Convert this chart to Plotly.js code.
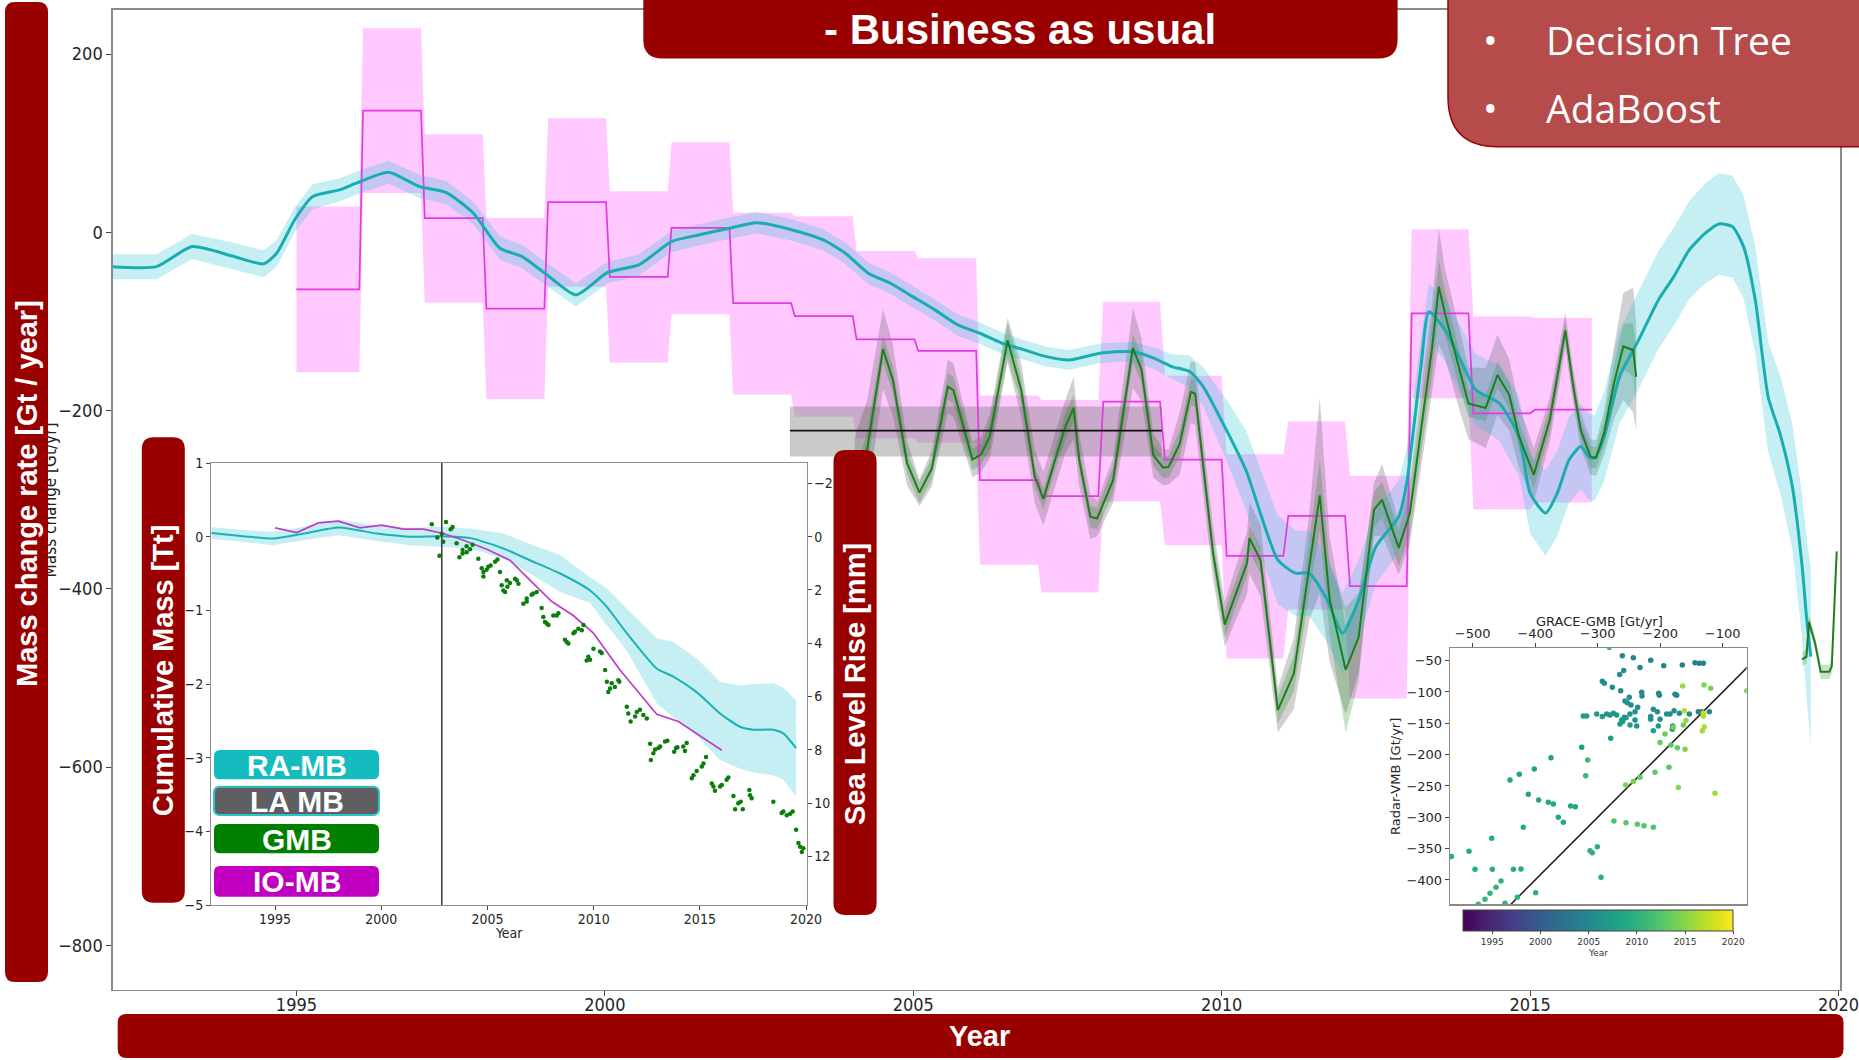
<!DOCTYPE html>
<html>
<head>
<meta charset="utf-8">
<script src="https://cdn.plot.ly/plotly-3.0.1.min.js"></script>
<style>
  html, body { margin: 0; padding: 0; background: #ffffff; }
  #chart { width: 1859px; height: 1060px; }
</style>
</head>
<body>
<div id="chart"></div>
<script>
// ===================== Main panel: mass change rate [Gt/yr] =====================

// RA-MB (radar altimetry mass balance): year, rate, 1-sigma
const ramYears = [1992.0, 1992.73, 1993.31, 1993.96, 1994.47, 1994.68, 1994.97, 1995.26, 1995.7, 1995.98,
  1996.49, 1997.0, 1997.43, 1997.87, 1998.3, 1998.66, 1999.03, 1999.53, 2000.04, 2000.55,
  2001.08, 2001.52, 2002.02, 2002.46, 2003.04, 2003.54, 2003.9, 2004.27, 2004.63, 2004.99,
  2005.35, 2005.72, 2006.08, 2006.44, 2006.8, 2007.16, 2007.53, 2008.03, 2008.54, 2008.9,
  2009.19, 2009.48, 2009.7, 2010.1, 2010.4, 2010.91, 2011.2, 2011.42, 2011.71, 2011.96,
  2012.22, 2012.5, 2012.87, 2013.0, 2013.23, 2013.36, 2013.62, 2013.87, 2014.12, 2014.5,
  2014.82, 2015.0, 2015.25, 2015.44, 2015.63, 2015.82, 2015.95, 2016.04, 2016.2, 2016.45,
  2016.76, 2017.08, 2017.33, 2017.58, 2017.84, 2018.06, 2018.28, 2018.46, 2018.65, 2018.86,
  2019.06, 2019.25, 2019.41, 2019.48, 2019.55];
const ramRate = [-38.5, -38.5, -16, -26.5, -35.4, -23.5, 13.9, 40, 47.6, 55.4,
  67.4, 51.3, 44.6, 21.4, -17.8, -27.2, -45.9, -70.2, -45.2, -36.6,
  -10.4, -2.9, 4.6, 10.9, 2.7, -8.5, -23.4, -45.9, -57.1, -72.1,
  -87, -103.9, -113.2, -124.4, -131.9, -139.4, -143.1, -135.6, -133.8, -141.2,
  -150.6, -156.2, -173, -225, -268, -367.5, -382.4, -382.4, -412.3, -449.7,
  -412.3, -352.5, -318.9, -281, -150.6, -89, -109.5, -143, -176.8, -191.7,
  -229, -292.7, -315, -292.7, -255.3, -240.4, -251.6, -253.4, -229, -161.9,
  -120.7, -75.8, -49.7, -19.7, -1, 9.4, 6.4, -16, -76, -185,
  -228, -285, -375, -431, -476];
const ramErr = [14, 14, 14, 15, 15, 15, 14, 14, 13, 13,
  13, 13, 13, 13, 13, 13, 13, 13, 12, 12,
  12, 12, 12, 12, 12, 12, 12, 12, 12, 12,
  12, 12, 12, 12, 11, 11, 11, 11, 11, 12,
  14, 18, 22, 35, 45, 50, 48, 48, 48, 45,
  45, 42, 40, 38, 35, 32, 35, 38, 40, 42,
  45, 45, 48, 48, 48, 48, 48, 48, 50, 52,
  55, 55, 55, 55, 56, 57, 57, 58, 60, 62,
  66, 70, 80, 90, 100];

// IO-MB (input-output mass balance): annual steps
const ioStart = [1995.0, 1996.08, 1997.08, 1998.08, 1999.08, 2000.08, 2001.08, 2002.08, 2003.08, 2004.08, 2005.08,
  2006.08, 2007.08, 2008.08, 2009.08, 2010.08, 2011.08, 2012.08, 2013.08, 2014.08, 2015.08];
const ioEnd = [1996.02, 1997.02, 1998.02, 1999.02, 2000.02, 2001.02, 2002.02, 2003.02, 2004.02, 2005.02, 2006.02,
  2007.02, 2008.0, 2009.0, 2010.0, 2011.0, 2012.0, 2013.0, 2014.0, 2015.0, 2016.0];
const ioRate = [-64, 136.5, 16, -85.6, 34, -50, 5, -79.5, -94, -120, -133,
  -278, -296, -190, -255, -363, -318, -397, -91, -203, -199];
const ioLow = [-157, 44, -79, -187, -61, -146, -92, -182, -207, -231, -236,
  -373, -404, -302, -351, -478, -423, -523, -186, -311, -303];
const ioHigh = [29, 229, 110, 16, 128, 46, 101, 22, 18, -21, -29,
  -183, -188, -78, -161, -249, -212, -273, 3.5, -94.5, -96];

// GMB (GRACE gravimetric mass balance): rate, inner and outer spread
const gmbYears = [2004.05, 2004.25, 2004.51, 2004.67, 2004.9, 2005.1, 2005.3, 2005.56, 2005.65, 2005.96,
  2006.1, 2006.24, 2006.53, 2006.75, 2006.97, 2007.11, 2007.3, 2007.47, 2007.6, 2007.69,
  2007.87, 2007.98, 2008.24, 2008.56, 2008.7, 2008.89, 2009.05, 2009.14, 2009.32, 2009.5,
  2009.57, 2009.86, 2010.05, 2010.23, 2010.41, 2010.45, 2010.63, 2010.91, 2011.17, 2011.42,
  2011.59, 2011.75, 2012.01, 2012.22, 2012.47, 2012.6, 2012.87, 2013.05, 2013.41, 2013.52,
  2013.62, 2013.87, 2014.0, 2014.28, 2014.47, 2014.66, 2014.82, 2015.06, 2015.32, 2015.57,
  2015.7, 2015.82, 2015.98, 2016.07, 2016.2, 2016.36, 2016.51, 2016.67, 2016.72];
const gmbRate = [-300, -244, -131, -166, -259, -292, -265, -173, -177, -255,
  -249, -229, -121, -177, -274, -299, -255, -217, -197, -255,
  -319, -321, -278, -130, -154, -250, -264, -263, -237, -179,
  -181, -360, -440, -405, -371, -343, -368, -536, -495, -375,
  -295, -412, -491, -454, -311, -300, -354, -315, -130, -61,
  -91, -158, -192, -197, -160, -182, -229, -272, -210, -110,
  -173, -222, -252, -253, -225, -169, -128, -132, -162];
const gmbErr = [25, 20, 15, 15, 12, 12, 12, 15, 15, 12,
  12, 15, 20, 15, 12, 12, 12, 15, 15, 12,
  12, 12, 15, 15, 15, 12, 12, 12, 15, 15,
  15, 15, 15, 15, 15, 15, 15, 15, 20, 30,
  40, 40, 70, 50, 20, 20, 20, 25, 30, 30,
  25, 20, 15, 15, 15, 15, 15, 15, 15, 10,
  10, 10, 12, 12, 15, 20, 25, 30, 30];
const gmbSpread = [70, 55, 45, 40, 25, 15, 20, 30, 30, 20,
  20, 25, 25, 30, 30, 30, 30, 30, 35, 30,
  25, 20, 25, 45, 35, 25, 20, 20, 35, 35,
  35, 30, 25, 30, 35, 40, 40, 25, 40, 60,
  110, 70, 50, 40, 30, 40, 30, 35, 50, 65,
  50, 45, 40, 45, 45, 40, 35, 30, 25, 20,
  20, 20, 20, 20, 25, 40, 60, 70, 60];

// GRACE-FO segment
const gfoYears = [2019.41, 2019.48, 2019.52, 2019.62, 2019.71, 2019.85, 2019.89, 2019.97];
const gfoRate = [-479, -476, -437, -461, -493, -493, -487, -358];

// LA MB (laser altimetry), 2003-2009 mean and range
const laPeriod = [2003.0, 2009.03];
const laRate = -222.4;
const laLow = -251.6;
const laHigh = -195.5;

const mainYearTicks = [1995, 2000, 2005, 2010, 2015, 2020];
const mainRateTicks = [-800, -600, -400, -200, 0, 200];

// ===================== Inset: cumulative mass [Tt] =====================
const cumRaYears = [1992.0, 1993.5, 1994.9, 1996.3, 1998.0, 1999.8, 2001.35, 2002.8, 2004.2, 2005.75,
  2007.0, 2008.42, 2009.83, 2010.61, 2011.56, 2012.97, 2013.75, 2014.85, 2015.95, 2016.89,
  2017.52, 2018.46, 2018.93, 2019.53];
const cumRa = [0.05, 0.007, -0.025, 0.04, 0.124, 0.042, 0.0, 0.005, -0.02, -0.16,
  -0.32, -0.5, -0.73, -0.95, -1.31, -1.79, -1.9, -2.11, -2.4, -2.58,
  -2.62, -2.62, -2.67, -2.87];
const cumRaLow = [-0.03, -0.07, -0.115, -0.05, 0.02, -0.06, -0.115, -0.138, -0.16, -0.3,
  -0.5, -0.75, -0.9, -1.2, -1.55, -2.26, -2.45, -2.7, -3.03, -3.15,
  -3.2, -3.24, -3.3, -3.53];
const cumRaHigh = [0.13, 0.09, 0.066, 0.13, 0.233, 0.15, 0.12, 0.133, 0.11, 0.043,
  -0.1, -0.25, -0.55, -0.7, -0.98, -1.38, -1.43, -1.65, -1.97, -2.02,
  -2.0, -1.99, -2.05, -2.22];

const cumIoYears = [1995.0, 1996.02, 1997.04, 1997.98, 1999.0, 2000.02, 2001.04, 2001.98, 2002.92, 2003.87,
  2004.97, 2006.06, 2007.0, 2008.03, 2009.04, 2009.99, 2011.24, 2012.18, 2012.97, 2013.99,
  2014.93, 2016.03];
const cumIo = [0.12, 0.056, 0.187, 0.21, 0.12, 0.156, 0.102, 0.102, 0.043, -0.048,
  -0.17, -0.32, -0.59, -0.88, -1.07, -1.31, -1.81, -2.13, -2.41, -2.51,
  -2.69, -2.9];

// Monthly GRACE cumulative mass
const cumGmbYears = [2002.38, 2002.64, 2002.74, 2002.85, 2002.92, 2003.05, 2003.27, 2003.36, 2003.55, 2003.68,
  2003.83, 2003.83, 2004.02, 2004.02, 2004.18, 2004.3, 2004.57, 2004.73, 2004.81, 2004.81,
  2004.96, 2005.04, 2005.15, 2005.36, 2005.47, 2005.59, 2005.67, 2005.75, 2005.83, 2005.91,
  2005.94, 2006.06, 2006.3, 2006.38, 2006.46, 2006.69, 2006.85, 2006.85, 2007.08, 2007.16,
  2007.32, 2007.55, 2007.63, 2007.71, 2007.79, 2007.87, 2008.1, 2008.26, 2008.34, 2008.65,
  2008.73, 2008.81, 2009.05, 2009.12, 2009.28, 2009.44, 2009.52, 2009.67, 2009.75, 2009.83,
  2009.99, 2010.3, 2010.38, 2010.54, 2010.62, 2010.69, 2010.77, 2010.85, 2011.0, 2011.16,
  2011.21, 2011.56, 2011.63, 2011.74, 2011.95, 2012.03, 2012.18, 2012.34, 2012.5, 2012.66,
  2012.69, 2012.81, 2012.89, 2013.05, 2013.13, 2013.36, 2013.47, 2013.79, 2013.88, 2013.94,
  2014.22, 2014.3, 2014.38, 2014.62, 2014.7, 2014.85, 2015.09, 2015.17, 2015.29, 2015.56,
  2015.64, 2015.71, 2015.95, 2016.03, 2016.26, 2016.34, 2016.58, 2016.66, 2016.81, 2016.92,
  2017.02, 2017.33, 2017.36, 2017.44, 2018.46, 2018.85, 2018.93, 2019.09, 2019.25, 2019.37,
  2019.53, 2019.64, 2019.72, 2019.8, 2019.87];
const cumGmb = [0.17, -0.01, -0.26, 0.04, -0.07, 0.2, 0.1, 0.13, -0.09, -0.28,
  -0.18, -0.23, -0.21, -0.13, -0.17, -0.11, -0.3, -0.43, -0.54, -0.48,
  -0.45, -0.41, -0.39, -0.34, -0.31, -0.48, -0.66, -0.73, -0.75, -0.59,
  -0.68, -0.63, -0.57, -0.59, -0.64, -0.91, -0.84, -0.88, -0.79, -0.77,
  -0.75, -0.97, -1.09, -1.16, -1.18, -1.2, -1.07, -1.07, -1.04, -1.4,
  -1.43, -1.45, -1.31, -1.29, -1.25, -1.27, -1.2, -1.68, -1.63, -1.67,
  -1.52, -1.56, -1.58, -1.81, -1.97, -2.11, -2.06, -1.99, -2.04, -1.95,
  -1.97, -2.31, -2.4, -2.51, -2.44, -2.38, -2.35, -2.42, -2.47, -2.81,
  -3.03, -2.94, -2.89, -2.87, -2.85, -2.78, -2.77, -2.92, -2.87, -2.86,
  -2.85, -2.91, -2.8, -3.28, -3.24, -3.18, -3.12, -3.08, -2.99, -3.35,
  -3.39, -3.45, -3.39, -3.37, -3.3, -3.27, -3.52, -3.7, -3.62, -3.6,
  -3.7, -3.44, -3.51, -3.55, -3.6, -3.75, -3.73, -3.78, -3.76, -3.73,
  -3.98, -4.16, -4.21, -4.28, -4.23];
const graceStart = 2002.85;

const insetYearTicks = [1995, 2000, 2005, 2010, 2015, 2020];
const insetMassTicks = [-5, -4, -3, -2, -1, 0, 1];
const insetSeaTicks = [-2, 0, 2, 4, 6, 8, 10, 12];

// ===================== Inset: GRACE-GMB vs Radar-VMB =====================
const scGrace = [-260.6, -243, -215.2, -164.6, -194.4, -232.3, -144.3, -137.4, -131, -258.4,
  -264.8, -292.6, -289.4, -276.6, -263.2, -229.6, -229.1, -202.4, -201.4, -176.3,
  -173.6, -256.3, -249.4, -252.6, -246.7, -236, -211, -204.6, -240.3, -248.3,
  -257.4, -261.6, -264.3, -260, -254.7, -269.6, -275, -280.3, -285.6, -292.6,
  -301.6, -317.6, -323, -240.3, -248.3, -237.6, -215.2, -215.2, -200.3, -211,
  -203, -189.7, -184.3, -177.9, -169.4, -153.4, -139, -133.6, -121.4, -180,
  -180.6, -279.2, -325.6, -374.7, -401.4, -425.4, -440.3, -411, -394.4, -379,
  -371, -343.2, -335.8, -363, -355, -419, -469.6, -505.9, -534, -496.3,
  -468.6, -434.9, -422.7, -454.7, -462.7, -472.3, -480.3, -491, -448.3, -428.6,
  -399.2, -294.7, -312.3, -308.6, -300.6, -319.2, -316, -274, -254.7, -236.6,
  -225.9, -211, -255.2, -243, -232.3, -208.3, -185.9, -171, -112.3, -200.3,
  -192.3, -182.7, -172.6, -160.3, -179, -163, -158.7, -161.4, -131, -129.4,
  -132.6, -131, -164, -129.9, -119.2, -61.6, -281.4];
const scRadar = [-42, -45.2, -49.4, -56.9, -58, -61.1, -53.2, -54.2, -54.2, -65.9,
  -72.3, -83, -86.1, -92.5, -97.9, -100.5, -106.4, -102.1, -105.3, -103.7,
  -105.3, -114.3, -108.5, -117, -120.7, -124.4, -127.6, -131.4, -131.4, -135.1,
  -140.4, -144.7, -151, -147.3, -141, -136.7, -134, -136.7, -135.1, -139.3,
  -135.1, -138.3, -138.3, -144.7, -152.6, -154.2, -139.3, -143.6, -143.6, -161.7,
  -154.2, -135.1, -135.1, -129.8, -134, -135.1, -131.4, -131.4, -131.4, -154.2,
  -159.6, -173.9, -188.3, -204.8, -222.9, -231.4, -240.4, -263.3, -272.3, -276,
  -278.7, -281.9, -283, -300, -308, -316, -333.5, -354.2, -362.7, -383,
  -383, -383, -382.4, -401.6, -411.7, -421.3, -430.8, -438.8, -437.2, -427.6,
  -420.2, -395.7, -353.2, -356.4, -346.8, -233.5, -208.5, -305.8, -308.5, -311.1,
  -313.3, -316, -248.4, -243, -236.2, -228.2, -220.2, -252.6, -261.7, -180.8,
  -167, -184.6, -188.8, -191.5, -156.4, -152.6, -145.7, -129.8, -138.3, -155.3,
  -161.7, -134, -90.4, -88.8, -94.1, -97.9, -28.7];
const scYear = [2004.6, 2004.6, 2004.4, 2004.2, 2004.5, 2004.8, 2003.8, 2003.9, 2004.0, 2005.0,
  2005.1, 2005.6, 2005.6, 2005.4, 2005.2, 2005.0, 2005.1, 2004.9, 2005.0, 2004.7,
  2004.8, 2005.6, 2005.5, 2005.8, 2005.8, 2005.5, 2005.3, 2005.4, 2006.0, 2006.2,
  2006.5, 2006.6, 2006.8, 2006.7, 2006.4, 2006.5, 2006.6, 2006.7, 2006.8, 2007.0,
  2007.1, 2007.3, 2007.4, 2006.3, 2006.9, 2006.6, 2006.0, 2006.1, 2006.0, 2007.6,
  2007.0, 2005.6, 2005.5, 2005.3, 2005.4, 2005.2, 2004.3, 2004.2, 2004.4, 2007.4,
  2007.6, 2007.0, 2007.5, 2007.8, 2008.0, 2008.2, 2008.3, 2008.3, 2008.5, 2008.5,
  2008.6, 2008.4, 2008.5, 2008.8, 2008.9, 2009.0, 2009.1, 2009.3, 2009.4, 2009.6,
  2009.5, 2009.4, 2009.5, 2010.0, 2010.2, 2010.4, 2010.5, 2010.6, 2010.3, 2010.1,
  2009.8, 2009.4, 2010.0, 2010.1, 2009.9, 2011.0, 2011.2, 2012.3, 2012.6, 2012.7,
  2012.5, 2012.4, 2014.5, 2014.2, 2013.5, 2013.0, 2012.8, 2015.0, 2016.0, 2013.5,
  2013.8, 2012.9, 2013.2, 2014.6, 2014.2, 2014.0, 2015.5, 2017.0, 2016.4, 2016.8,
  2016.2, 2017.5, 2015.8, 2014.8, 2014.6, 2015.0, 2005.0];
const oneToOne = [-560, -40];

const scGraceTicks = [-500, -400, -300, -200, -100];
const scRadarTicks = [-400, -350, -300, -250, -200, -150, -100, -50];
const colorYearTicks = [1995, 2000, 2005, 2010, 2015, 2020];

// ===================== Drawing =====================
const W = 1859, H = 1060;
const TICK_FONT = 'DejaVu Sans Condensed, DejaVu Sans, sans-serif';
const PLAIN_FONT = 'DejaVu Sans, sans-serif';
const BOLD_FONT = 'Liberation Sans, Arial, Helvetica, sans-serif';
const BOX_FONT = 'Open Sans, Noto Sans, sans-serif';
const DARK_RED = '#990000';

const fx = p => p / W;          // pixel -> paper x
const fy = p => 1 - p / H;      // pixel -> paper y

function roundedPath(x0, y0, x1, y1, r) {
  const P = (x, y) => fx(x).toFixed(5) + ',' + fy(y).toFixed(5);
  return 'M' + P(x0 + r, y0) + ' L' + P(x1 - r, y0) + ' Q' + P(x1, y0) + ' ' + P(x1, y0 + r) +
    ' L' + P(x1, y1 - r) + ' Q' + P(x1, y1) + ' ' + P(x1 - r, y1) +
    ' L' + P(x0 + r, y1) + ' Q' + P(x0, y1) + ' ' + P(x0, y1 - r) +
    ' L' + P(x0, y0 + r) + ' Q' + P(x0, y0) + ' ' + P(x0 + r, y0) + ' Z';
}

function band(xs, lo, hi, color, xa, ya) {
  return {
    x: xs.concat(xs.slice().reverse()),
    y: hi.concat(lo.slice().reverse()),
    type: 'scatter', mode: 'none', fill: 'toself', fillcolor: color,
    xaxis: xa, yaxis: ya, hoverinfo: 'skip'
  };
}

// step outline for the annual IO-MB values
const ioX = [], ioY = [], ioLoY = [], ioHiY = [];
ioStart.forEach((s, i) => {
  ioX.push(s, ioEnd[i]);
  ioY.push(ioRate[i], ioRate[i]);
  ioLoY.push(ioLow[i], ioLow[i]);
  ioHiY.push(ioHigh[i], ioHigh[i]);
});

const ramLo = ramRate.map((v, i) => v - ramErr[i]);
const ramHi = ramRate.map((v, i) => v + ramErr[i]);
const gmbLo = gmbRate.map((v, i) => v - gmbErr[i]);
const gmbHi = gmbRate.map((v, i) => v + gmbErr[i]);
const gmbSLo = gmbRate.map((v, i) => v - gmbSpread[i]);
const gmbSHi = gmbRate.map((v, i) => v + gmbSpread[i]);
const gfoLo = gfoRate.map(v => v - 8);
const gfoHi = gfoRate.map(v => v + 8);

const traces = [
  // main panel
  band(ioX, ioLoY, ioHiY, 'rgba(255,0,255,0.21)', 'x', 'y'),
  band(laPeriod, [laLow, laLow], [laHigh, laHigh], 'rgba(128,128,128,0.42)', 'x', 'y'),
  band(gmbYears, gmbSLo, gmbSHi, 'rgba(90,90,90,0.28)', 'x', 'y'),
  band(gmbYears, gmbLo, gmbHi, 'rgba(0,128,0,0.22)', 'x', 'y'),
  band(ramYears, ramLo, ramHi, 'rgba(23,190,207,0.25)', 'x', 'y'),
  band(gfoYears, gfoLo, gfoHi, 'rgba(0,128,0,0.22)', 'x', 'y'),
  { x: ioX, y: ioY, type: 'scatter', mode: 'lines', line: { color: '#e23be2', width: 1.7 }, xaxis: 'x', yaxis: 'y' },
  { x: ramYears, y: ramRate, type: 'scatter', mode: 'lines', line: { color: '#19adb0', width: 3, shape: 'spline', smoothing: 0.6 }, xaxis: 'x', yaxis: 'y' },
  { x: gmbYears, y: gmbRate, type: 'scatter', mode: 'lines', line: { color: '#1f7d1f', width: 2 }, xaxis: 'x', yaxis: 'y' },
  { x: gfoYears, y: gfoRate, type: 'scatter', mode: 'lines', line: { color: '#1f7d1f', width: 2 }, xaxis: 'x', yaxis: 'y' },
  { x: laPeriod, y: [laRate, laRate], type: 'scatter', mode: 'lines', line: { color: '#111111', width: 1.6 }, xaxis: 'x', yaxis: 'y' },

  // cumulative inset
  band(cumRaYears, cumRaLow, cumRaHigh, 'rgba(23,190,207,0.25)', 'x2', 'y2'),
  { x: cumRaYears, y: cumRa, type: 'scatter', mode: 'lines', line: { color: '#1ab2b5', width: 2, shape: 'spline', smoothing: 0.6 }, xaxis: 'x2', yaxis: 'y2' },
  { x: cumIoYears, y: cumIo, type: 'scatter', mode: 'lines', line: { color: '#bd3fc4', width: 1.7 }, xaxis: 'x2', yaxis: 'y2' },
  { x: cumGmbYears, y: cumGmb, type: 'scatter', mode: 'markers', marker: { color: '#0b7d0b', size: 4.5 }, xaxis: 'x2', yaxis: 'y2' },
  { x: [graceStart, graceStart], y: [insetMassTicks[0], insetMassTicks[insetMassTicks.length - 1]], type: 'scatter', mode: 'lines', line: { color: '#444444', width: 1.6 }, xaxis: 'x2', yaxis: 'y2' },
  { x: [2000], y: [0], type: 'scatter', mode: 'markers', marker: { size: 1, opacity: 0 }, xaxis: 'x2', yaxis: 'y3' },

  // scatter inset
  { x: oneToOne, y: oneToOne, type: 'scatter', mode: 'lines', line: { color: '#222222', width: 1.6 }, xaxis: 'x4', yaxis: 'y4' },
  {
    x: scGrace, y: scRadar, type: 'scatter', mode: 'markers', xaxis: 'x4', yaxis: 'y4',
    marker: {
      size: 5.5, color: scYear, colorscale: 'Viridis', cmin: 1992, cmax: 2020, showscale: true,
      colorbar: {
        orientation: 'h', x: fx(1598.3), xanchor: 'center', y: fy(910), yanchor: 'top',
        len: 270 / W, lenmode: 'fraction', thickness: 21, thicknessmode: 'pixels',
        xpad: 0, ypad: 0, outlinewidth: 1, outlinecolor: '#444444',
        tickvals: colorYearTicks, ticks: 'outside', ticklen: 3, tickcolor: '#444',
        tickfont: { family: PLAIN_FONT, size: 9, color: '#333333' }
      }
    }
  }
];

const axisBase = {
  showgrid: false, zeroline: false, showline: true, mirror: true,
  ticks: 'outside', ticklen: 5, tickwidth: 1, tickcolor: '#444444',
  linecolor: '#8a8a8a', linewidth: 1.3, fixedrange: true, ticklabeloverflow: 'allow'
};
const mainTickFont = { family: TICK_FONT, size: 18, color: '#262626' };
const insetTickFont = { family: TICK_FONT, size: 14, color: '#262626' };
const scTickFont = { family: PLAIN_FONT, size: 13, color: '#262626' };

const shapes = [];
const annotations = [];

// partly hidden original axis label of the main panel
shapes.push({
  type: 'rect', xref: 'paper', yref: 'paper', layer: 'above',
  x0: fx(38), x1: fx(60), y0: fy(600), y1: fy(400),
  line: { width: 0 }, fillcolor: 'rgba(0,0,0,0)',
  label: { text: 'Mass change [Gt/yr]', textangle: -90, textposition: 'middle center',
    font: { family: TICK_FONT, size: 17, color: '#222222' } }
});

function box(x0, y0, x1, y1, r, fill, lineColor, lineWidth) {
  shapes.push({
    type: 'path', xref: 'paper', yref: 'paper', layer: 'above',
    path: roundedPath(x0, y0, x1, y1, r), fillcolor: fill,
    line: { color: lineColor || fill, width: lineWidth || 0 }
  });
}
function text(t, x, y, size, opts) {
  annotations.push(Object.assign({
    text: t, xref: 'paper', yref: 'paper', x: fx(x), y: fy(y),
    xanchor: 'center', yanchor: 'middle', showarrow: false,
    font: { family: BOLD_FONT, size: size, color: '#ffffff' }
  }, opts || {}));
}

// title banners and axis-title bars
box(643.3, -40, 1397.6, 58.5, 19, DARK_RED);
box(1448, -80, 1920, 146.7, 50, '#b54b4b', '#a00000', 1.5);
box(5, 2, 48, 982, 10, DARK_RED);
box(117.7, 1014, 1843.5, 1058, 9, DARK_RED);
box(141.8, 437.2, 184.8, 902.7, 12, DARK_RED);
box(833.5, 450, 876.6, 915, 12, DARK_RED);

// legend chips
box(214, 750, 379, 779.3, 6, '#14bcc0');
box(214, 786.7, 379, 815, 6, '#5f5f63', '#2ec4c4', 2);
box(214, 824, 379, 853.3, 6, '#008000');
box(214, 866, 379, 896.7, 6, '#c000c0');

const boxFont = { family: BOX_FONT, size: 39, color: '#ffffff' };
text('<b>- Business as usual</b>', 1020, 29, 42);
text('•', 1490, 39, 36, { font: boxFont });
text('•', 1490, 107, 36, { font: boxFont });
text('Decision Tree', 1544, 39, 39, { xanchor: 'left', font: boxFont });
text('AdaBoost', 1544, 107, 39, { xanchor: 'left', font: boxFont });
text('<b>Mass change rate [Gt / year]</b>', 27, 494, 29, { textangle: -90 });
text('<b>Year</b>', 980, 1036, 29);
text('<b>Cumulative Mass [Tt]</b>', 163.3, 670, 29, { textangle: -90 });
text('<b>Sea Level Rise [mm]</b>', 855, 684, 29, { textangle: -90 });
text('<b>RA-MB</b>', 296.5, 765, 30);
text('<b>LA MB</b>', 296.5, 801, 30);
text('<b>GMB</b>', 296.5, 839, 30);
text('<b>IO-MB</b>', 296.5, 881.5, 30);

// inset axis titles
text('Year', 509, 933, 14, { font: { family: TICK_FONT, size: 14, color: '#262626' } });
text('GRACE-GMB [Gt/yr]', 1599, 621, 13, { font: { family: PLAIN_FONT, size: 13, color: '#262626' } });
text('Radar-VMB [Gt/yr]', 1395, 777, 13, { textangle: -90, font: { family: PLAIN_FONT, size: 13, color: '#262626' } });
text('Year', 1598, 953, 9, { font: { family: PLAIN_FONT, size: 9, color: '#333333' } });

const layout = {
  width: W, height: H, margin: { l: 0, r: 0, t: 0, b: 0 },
  paper_bgcolor: '#ffffff', plot_bgcolor: '#ffffff', showlegend: false,
  xaxis: Object.assign({}, axisBase, {
    domain: [fx(112.6), fx(1840.4)], range: [1992.02, 2020.03], anchor: 'y',
    tickvals: mainYearTicks, tickfont: mainTickFont, ticklabelstandoff: -7
  }),
  yaxis: Object.assign({}, axisBase, {
    domain: [fy(990), fy(9.5)], range: [-850, 250], anchor: 'x',
    tickvals: mainRateTicks, tickfont: mainTickFont
  }),
  xaxis2: Object.assign({}, axisBase, {
    domain: [fx(211.3), fx(806.5)], range: [1992, 2020.02], anchor: 'y2',
    tickvals: insetYearTicks, tickfont: insetTickFont, ticklen: 4, linecolor: '#909090',
    ticklabelstandoff: -3
  }),
  yaxis2: Object.assign({}, axisBase, {
    domain: [fy(905), fy(463)], range: [-5, 1], anchor: 'x2',
    tickvals: insetMassTicks, tickfont: insetTickFont, ticklen: 4, linecolor: '#909090'
  }),
  yaxis3: Object.assign({}, axisBase, {
    overlaying: 'y2', side: 'right', anchor: 'x2', showline: false, mirror: false,
    range: [13.82, -2.763], tickvals: insetSeaTicks, tickfont: insetTickFont, ticklen: 4
  }),
  xaxis4: Object.assign({}, axisBase, {
    domain: [fx(1450), fx(1746.7)], range: [-536.3, -61.6], anchor: 'y4', side: 'top',
    tickvals: scGraceTicks, tickfont: scTickFont, ticklen: 4, linecolor: '#8a8a8a'
  }),
  yaxis4: Object.assign({}, axisBase, {
    domain: [fy(904.3), fy(648.3)], range: [-438.8, -30.3], anchor: 'x4',
    tickvals: scRadarTicks, tickfont: scTickFont, ticklen: 4, linecolor: '#8a8a8a'
  }),
  shapes: shapes,
  annotations: annotations
};

Plotly.newPlot('chart', traces, layout, { staticPlot: true, displayModeBar: false });
</script>
</body>
</html>
